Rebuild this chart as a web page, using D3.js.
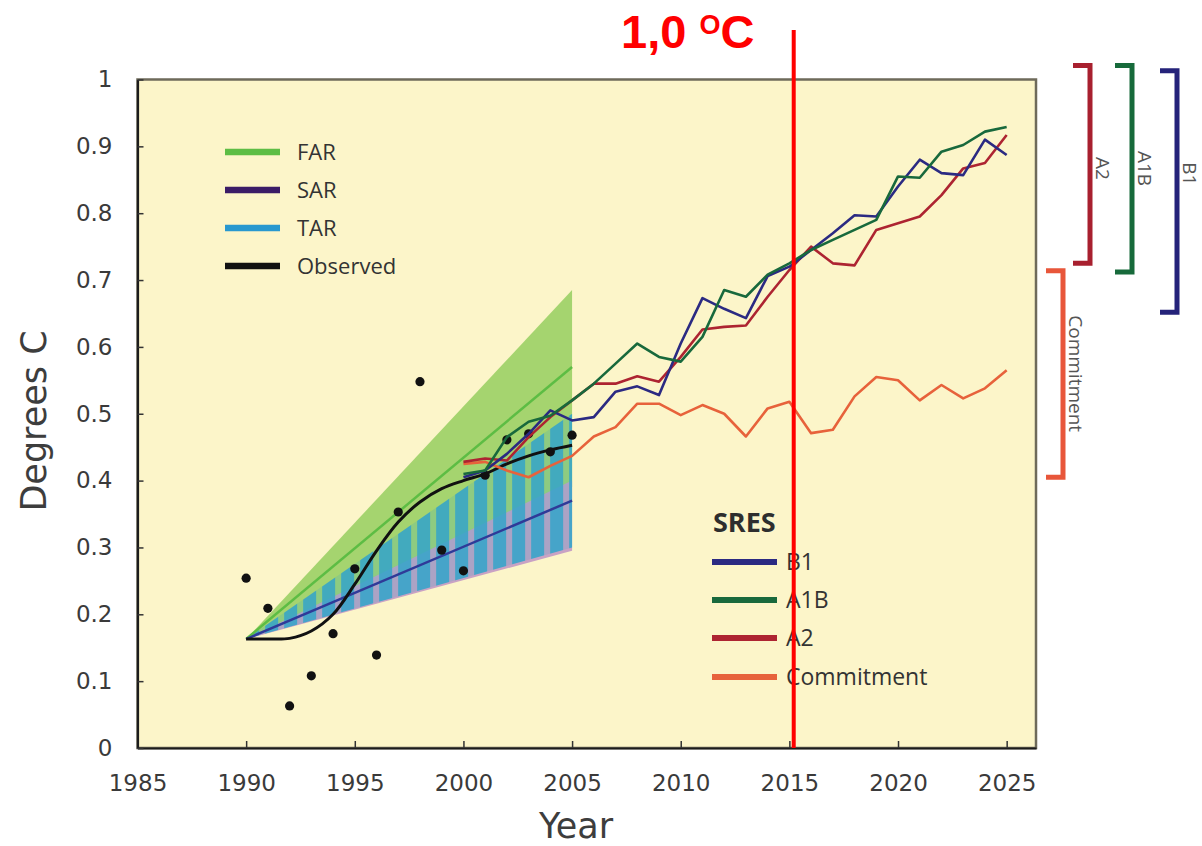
<!DOCTYPE html>
<html>
<head>
<meta charset="utf-8">
<script src="https://cdn.jsdelivr.net/npm/d3@7"></script>
<style>
  html, body { margin: 0; padding: 0; background: #ffffff; }
  svg { display: block; }
</style>
</head>
<body>
<svg id="chart" width="1202" height="846"></svg>
<script>
// ---- axis ticks ----
const xTicks = [1985, 1990, 1995, 2000, 2005, 2010, 2015, 2020, 2025];
const xTickLabels = ["1985", "1990", "1995", "2000", "2005", "2010", "2015", "2020", "2025"];
const yTicks = [0, 0.1, 0.2, 0.3, 0.4, 0.5, 0.6, 0.7, 0.8, 0.9, 1];
const yTickLabels = ["0", "0.1", "0.2", "0.3", "0.4", "0.5", "0.6", "0.7", "0.8", "0.9", "1"];

// ---- observed temperature anomalies (°C) ----
const obsYears = [1990, 1991, 1992, 1993, 1994, 1995, 1996, 1997, 1998, 1999, 2000, 2001, 2002, 2003, 2004, 2005];
const obsAnnual = [0.254, 0.209, 0.063, 0.108, 0.171, 0.268, 0.139, 0.353, 0.548, 0.296, 0.265, 0.408, 0.461, 0.470, 0.443, 0.468];
const obsSmoothed = [0.163, 0.163, 0.164, 0.175, 0.200, 0.245, 0.295, 0.338, 0.368, 0.388, 0.400, 0.410, 0.425, 0.437, 0.446, 0.453];

// ---- earlier assessment projection ranges (start 1990, end 2005) ----
const fanYears = [1990, 2005];
const farLow = [0.163, 0.39];
const farHigh = [0.163, 0.685];
const farMid = [0.163, 0.57];
const sarLow = [0.163, 0.295];
const sarHigh = [0.163, 0.40];
const sarMid = [0.163, 0.37];
const tarLow = [0.163, 0.30];
const tarHigh = [0.163, 0.50];

// ---- SRES scenario model means (°C) ----
const sresYears = [2000, 2001, 2002, 2003, 2004, 2005, 2006, 2007, 2008, 2009, 2010, 2011, 2012,
                   2013, 2014, 2015, 2016, 2017, 2018, 2019, 2020, 2021, 2022, 2023, 2024, 2025];
const b1 = [0.405, 0.415, 0.440, 0.470, 0.505, 0.490, 0.495, 0.533, 0.541, 0.528, 0.605, 0.673, 0.657,
            0.643, 0.706, 0.720, 0.745, 0.770, 0.797, 0.795, 0.840, 0.880, 0.860, 0.857, 0.910, 0.887];
const a1b = [0.410, 0.415, 0.465, 0.488, 0.497, 0.520, 0.545, 0.575, 0.605, 0.585, 0.578, 0.615, 0.685,
             0.675, 0.708, 0.725, 0.745, 0.760, 0.775, 0.790, 0.855, 0.853, 0.892, 0.902, 0.922, 0.929];
const a2 = [0.428, 0.433, 0.430, 0.465, 0.495, 0.520, 0.545, 0.545, 0.556, 0.548, 0.585, 0.626, 0.630,
            0.632, 0.675, 0.715, 0.750, 0.725, 0.722, 0.775, 0.785, 0.795, 0.827, 0.867, 0.875, 0.917];
const commitment = [0.425, 0.428, 0.415, 0.405, 0.422, 0.437, 0.466, 0.480, 0.515, 0.515, 0.498, 0.513, 0.500,
                    0.466, 0.508, 0.518, 0.471, 0.476, 0.526, 0.555, 0.550, 0.520, 0.543, 0.523, 0.538, 0.565];

// ---- ranges shown as brackets to the right of the plot ----
const bracketNames = ["Commitment", "A2", "A1B", "B1"];
const bracketLow = [0.405, 0.725, 0.712, 0.652];
const bracketHigh = [0.714, 1.021, 1.021, 1.013];

// ---- 1.0 °C marker ----
const markerYear = 2015.2;

// ---------------------------------------------------------------
const svg = d3.select("#chart");
const plotLeft = 137.5, plotRight = 1036, plotTop = 79.5, plotBottom = 748;

const x = d3.scaleLinear().domain([1985, 2026.35]).range([plotLeft, plotRight]);
const y = d3.scaleLinear().domain([0, 1]).range([plotBottom, plotTop]);

const colors = {
  plotBg: "#fcf5c9",
  far: "#5dbd44", farFill: "#a5d46f",
  sar: "#3b1c66", sarLine: "#2f3a98", sarFill: "#c9a2c4",
  tar: "#2898cf", tarFill: "#34a4c9",
  obs: "#111111",
  b1: "#2b2a82", a1b: "#18693c", a2: "#ad2431", commitment: "#e7623b"
};
const bracketColors = ["#e8563a", "#a8202f", "#176a3b", "#25237a"];
const bracketX = [1063, 1090, 1132, 1177];

// plot background
svg.append("rect")
  .attr("x", plotLeft).attr("y", plotTop)
  .attr("width", plotRight - plotLeft).attr("height", plotBottom - plotTop)
  .attr("fill", colors.plotBg);

// ---- projection fans ----
const fanRows = (lo, hi) => fanYears.map((yr, i) => ({ yr, lo: lo[i], hi: hi[i] }));
const fanArea = d3.area().x(d => x(d.yr)).y0(d => y(d.lo)).y1(d => y(d.hi));

svg.append("path").datum(fanRows(farLow, farHigh))
  .attr("d", fanArea).attr("fill", colors.farFill);
svg.append("path").datum(fanRows(sarLow, sarHigh))
  .attr("d", fanArea).attr("fill", colors.sarFill);

// TAR range drawn with vertical hatching
const defs = svg.append("defs");
const pat = defs.append("pattern")
  .attr("id", "tarStripes")
  .attr("patternUnits", "userSpaceOnUse")
  .attr("x", x(1990)).attr("y", 0)
  .attr("width", 19).attr("height", 10);
pat.append("rect").attr("x", 0).attr("y", 0).attr("width", 13).attr("height", 10)
  .attr("fill", colors.tarFill).attr("fill-opacity", 0.88);
pat.append("rect").attr("x", 13).attr("y", 0).attr("width", 6).attr("height", 10)
  .attr("fill", colors.tarFill).attr("fill-opacity", 0.2);

svg.append("path").datum(fanRows(tarLow, tarHigh))
  .attr("d", fanArea).attr("fill", "url(#tarStripes)");

// central projections
const straight = d3.line().x(d => x(d.yr)).y(d => y(d.v));
svg.append("path").datum(fanYears.map((yr, i) => ({ yr, v: farMid[i] })))
  .attr("d", straight).attr("fill", "none")
  .attr("stroke", colors.far).attr("stroke-width", 2.5);
svg.append("path").datum(fanYears.map((yr, i) => ({ yr, v: sarMid[i] })))
  .attr("d", straight).attr("fill", "none")
  .attr("stroke", colors.sarLine).attr("stroke-width", 2.5);

// ---- observations ----
const smoothLine = d3.line().curve(d3.curveCatmullRom.alpha(0.5)).x(d => x(d.yr)).y(d => y(d.v));
svg.append("path").datum(obsYears.map((yr, i) => ({ yr, v: obsSmoothed[i] })))
  .attr("d", smoothLine).attr("fill", "none")
  .attr("stroke", colors.obs).attr("stroke-width", 3);

svg.append("g").selectAll("circle")
  .data(obsYears.map((yr, i) => ({ yr, v: obsAnnual[i] })))
  .join("circle")
  .attr("cx", d => x(d.yr)).attr("cy", d => y(d.v)).attr("r", 4.6)
  .attr("fill", colors.obs);

// ---- SRES scenario lines ----
const scen = [
  { vals: commitment, color: colors.commitment },
  { vals: a2, color: colors.a2 },
  { vals: b1, color: colors.b1 },
  { vals: a1b, color: colors.a1b }
];
scen.forEach(s => {
  svg.append("path")
    .datum(sresYears.map((yr, i) => ({ yr, v: s.vals[i] })))
    .attr("d", straight).attr("fill", "none")
    .attr("stroke", s.color).attr("stroke-width", 2.6)
    .attr("stroke-linejoin", "round");
});

// ---- frame and axes ----
svg.append("rect")
  .attr("x", plotLeft).attr("y", plotTop)
  .attr("width", plotRight - plotLeft).attr("height", plotBottom - plotTop)
  .attr("fill", "none").attr("stroke", "#6e6a5a").attr("stroke-width", 2.5);

const xAxis = d3.axisBottom(x).tickValues(xTicks)
  .tickFormat((d, i) => xTickLabels[i])
  .tickSizeInner(-7).tickSizeOuter(0).tickPadding(27);
const yAxis = d3.axisLeft(y).tickValues(yTicks)
  .tickFormat((d, i) => yTickLabels[i])
  .tickSizeInner(-6).tickSizeOuter(0).tickPadding(25);

const gx = svg.append("g").attr("transform", `translate(0,${plotBottom})`).call(xAxis);
const gy = svg.append("g").attr("transform", `translate(${plotLeft},0)`).call(yAxis);
[gx, gy].forEach(g => {
  g.select(".domain").attr("stroke", "#1c1c1c").attr("stroke-width", 2.2);
  g.selectAll(".tick line").attr("stroke", "#333").attr("stroke-width", 1.5);
  g.selectAll(".tick text")
    .attr("font-family", "DejaVu Sans, Verdana, sans-serif")
    .attr("font-size", 23).attr("fill", "#3a3a3a");
});

// axis titles
svg.append("text")
  .attr("x", 576).attr("y", 838)
  .attr("text-anchor", "middle")
  .attr("font-family", "DejaVu Sans, Verdana, sans-serif")
  .attr("font-size", 35).attr("fill", "#3d3d3d")
  .text("Year");
svg.append("text")
  .attr("transform", "translate(46,421) rotate(-90)")
  .attr("text-anchor", "middle")
  .attr("font-family", "DejaVu Sans, Verdana, sans-serif")
  .attr("font-size", 35).attr("fill", "#3d3d3d")
  .text("Degrees C");

// ---- assessment legend ----
const legendFont = "Open Sans, Noto Sans, sans-serif";
const asmt = [
  { label: "FAR", color: colors.far, y: 152 },
  { label: "SAR", color: colors.sar, y: 190 },
  { label: "TAR", color: colors.tar, y: 228 },
  { label: "Observed", color: colors.obs, y: 266 }
];
const lg1 = svg.append("g");
asmt.forEach(d => {
  lg1.append("line").attr("x1", 225).attr("x2", 280).attr("y1", d.y).attr("y2", d.y)
    .attr("stroke", d.color).attr("stroke-width", 6.5);
  lg1.append("text").attr("x", 297).attr("y", d.y).attr("dy", "0.35em")
    .attr("font-family", legendFont).attr("font-size", 22).attr("fill", "#333")
    .text(d.label);
});

// ---- SRES legend ----
const lg2 = svg.append("g");
lg2.append("text").attr("x", 713).attr("y", 532)
  .attr("font-family", legendFont).attr("font-weight", "bold")
  .attr("font-size", 27).attr("fill", "#2e2e2e").text("SRES");
const sres = [
  { label: "B1", color: colors.b1, y: 562 },
  { label: "A1B", color: colors.a1b, y: 600 },
  { label: "A2", color: colors.a2, y: 638 },
  { label: "Commitment", color: colors.commitment, y: 677 }
];
sres.forEach(d => {
  lg2.append("line").attr("x1", 712).attr("x2", 777).attr("y1", d.y).attr("y2", d.y)
    .attr("stroke", d.color).attr("stroke-width", 6);
  lg2.append("text").attr("x", 786).attr("y", d.y).attr("dy", "0.35em")
    .attr("font-family", legendFont).attr("font-size", 23).attr("fill", "#333")
    .text(d.label);
});

// ---- scenario range brackets ----
bracketNames.forEach((name, i) => {
  const bx = bracketX[i], y0 = y(bracketHigh[i]), y1 = y(bracketLow[i]);
  svg.append("path")
    .attr("d", `M${bx - 17},${y0} H${bx} V${y1} H${bx - 17}`)
    .attr("fill", "none").attr("stroke", bracketColors[i]).attr("stroke-width", 5);
  svg.append("text")
    .attr("transform", `translate(${bx + 13},${y0 + 103}) rotate(90)`)
    .attr("text-anchor", "middle").attr("dy", "0.35em")
    .attr("font-family", legendFont).attr("font-size", 19).attr("fill", "#555")
    .text(name);
});

// ---- 1.0 °C marker line and label ----
svg.append("line")
  .attr("x1", x(markerYear)).attr("x2", x(markerYear))
  .attr("y1", 30).attr("y2", plotBottom)
  .attr("stroke", "#ff0000").attr("stroke-width", 4);
const mk = svg.append("text")
  .attr("x", 621).attr("y", 48)
  .attr("font-family", "Liberation Sans, Arial, sans-serif")
  .attr("font-weight", "bold").attr("font-size", 47).attr("fill", "#ff0000");
mk.append("tspan").text("1,0 ");
mk.append("tspan").attr("font-size", 27).attr("dy", -14).text("O");
mk.append("tspan").attr("dy", 14).text("C");
</script>
</body>
</html>
